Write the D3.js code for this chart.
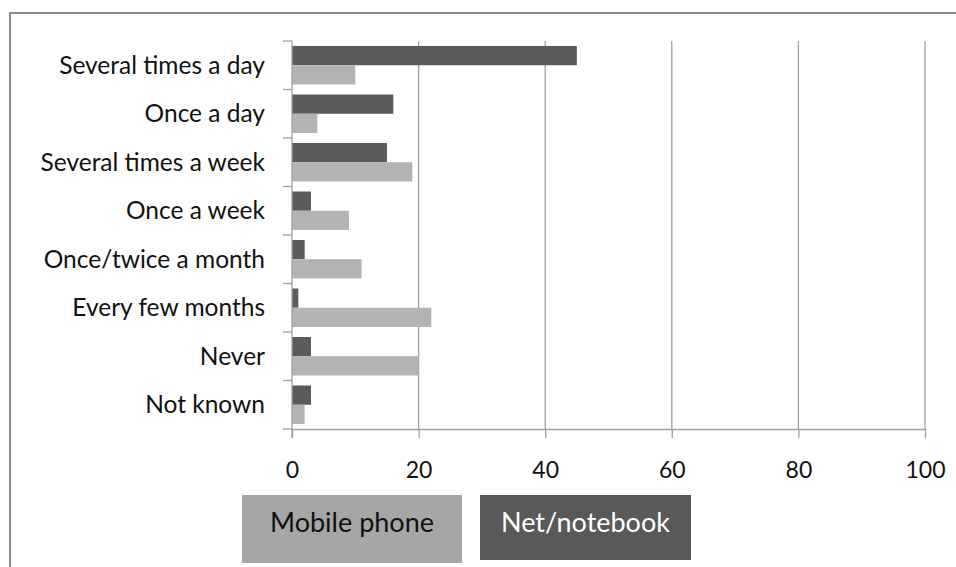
<!DOCTYPE html>
<html>
<head>
<meta charset="utf-8">
<script src="https://cdn.jsdelivr.net/npm/d3@7"></script>
<style>
  html, body { margin: 0; padding: 0; background: #fff; }
  svg { display: block; }
  text { font-family: Lato, "Open Sans", sans-serif; }
</style>
</head>
<body>
<svg id="chart" width="956" height="567"></svg>
<script>
// Frequency of use, per device (percent)
const categories = [
  "Several times a day", "Once a day", "Several times a week", "Once a week",
  "Once/twice a month", "Every few months", "Never", "Not known"
];
const netNotebook = [45, 16, 15, 3, 2, 1, 3, 3];
const mobilePhone = [10, 4, 19, 9, 11, 22, 20, 2];
const xTicks = [0, 20, 40, 60, 80, 100];
const seriesNames = ["Mobile phone", "Net/notebook"];

const colors = { net: "#5b5b5b", mobile: "#b3b3b3", axis: "#a0a0a0" };

const svg = d3.select("#chart");

// Frame around the chart area
svg.append("path")
  .attr("d", "M10,570 L10,13 L960,13")
  .attr("fill", "none").attr("stroke", "#8c8c8c").attr("stroke-width", 2);

const plot = { left: 292, right: 925, top: 41, bottom: 429 };

const x = d3.scaleLinear().domain([0, 100]).range([plot.left, plot.right]);
const y = d3.scaleBand().domain(categories).range([plot.top, plot.bottom]).paddingInner(0).paddingOuter(0);
const inner = d3.scaleBand().domain(["net", "mobile"]).range([0, y.bandwidth()]).paddingOuter(0.26).paddingInner(0);

// Vertical gridlines
svg.append("g").selectAll("line")
  .data(xTicks.filter(t => t > 0))
  .join("line")
  .attr("x1", d => x(d)).attr("x2", d => x(d))
  .attr("y1", plot.top).attr("y2", plot.bottom)
  .attr("stroke", colors.axis).attr("stroke-width", 1.3);

// Bars
const rows = categories.map((c, i) => ({ c, net: netNotebook[i], mobile: mobilePhone[i] }));
const groups = svg.append("g").selectAll("g").data(rows).join("g")
  .attr("transform", d => `translate(0,${y(d.c)})`);
groups.append("rect")
  .attr("x", x(0)).attr("y", inner("net"))
  .attr("width", d => x(d.net) - x(0)).attr("height", inner.bandwidth())
  .attr("fill", colors.net);
groups.append("rect")
  .attr("x", x(0)).attr("y", inner("mobile"))
  .attr("width", d => x(d.mobile) - x(0)).attr("height", inner.bandwidth())
  .attr("fill", colors.mobile);

// X axis
const xAxis = svg.append("g")
  .attr("transform", `translate(0,${plot.bottom})`)
  .call(d3.axisBottom(x).tickValues(xTicks).tickSize(9).tickSizeOuter(0).tickPadding(24));
xAxis.select(".domain").attr("stroke", colors.axis).attr("stroke-width", 1.3);
xAxis.selectAll(".tick line").attr("stroke", colors.axis).attr("stroke-width", 1.3);
xAxis.selectAll(".tick text").attr("font-size", 23).attr("fill", "#111")
  .style("font-family", "Lato, 'Open Sans', sans-serif");

// Y axis: ticks on category boundaries
const yAxisG = svg.append("g");
yAxisG.append("line")
  .attr("x1", plot.left).attr("x2", plot.left)
  .attr("y1", plot.top).attr("y2", plot.bottom + 9)
  .attr("stroke", colors.axis).attr("stroke-width", 1.3);
yAxisG.selectAll(".bound").data(categories.map(c => y(c)).concat([plot.bottom]))
  .join("line").attr("class", "bound")
  .attr("x1", plot.left - 9).attr("x2", plot.left)
  .attr("y1", d => d).attr("y2", d => d)
  .attr("stroke", colors.axis).attr("stroke-width", 1.3);
yAxisG.selectAll("text").data(categories).join("text")
  .attr("x", 265).attr("y", d => y(d) + y.bandwidth() / 2)
  .attr("dy", "0.35em").attr("text-anchor", "end")
  .attr("font-size", 24.5).attr("fill", "#111")
  .text(d => d);

// Legend as filled boxes
const legend = [
  { name: seriesNames[0], x: 242, y: 495, w: 220, h: 68, fill: "#a6a6a6", text: "#111" },
  { name: seriesNames[1], x: 480, y: 495, w: 211, h: 65, fill: "#595959", text: "#fff" }
];
const lg = svg.append("g").selectAll("g").data(legend).join("g");
lg.append("rect")
  .attr("x", d => d.x).attr("y", d => d.y).attr("width", d => d.w).attr("height", d => d.h)
  .attr("fill", d => d.fill);
lg.append("text")
  .attr("x", d => d.x + d.w / 2).attr("y", d => d.y + 28)
  .attr("dy", "0.35em").attr("text-anchor", "middle")
  .attr("font-size", 27).attr("fill", d => d.text)
  .text(d => d.name);
</script>
</body>
</html>
